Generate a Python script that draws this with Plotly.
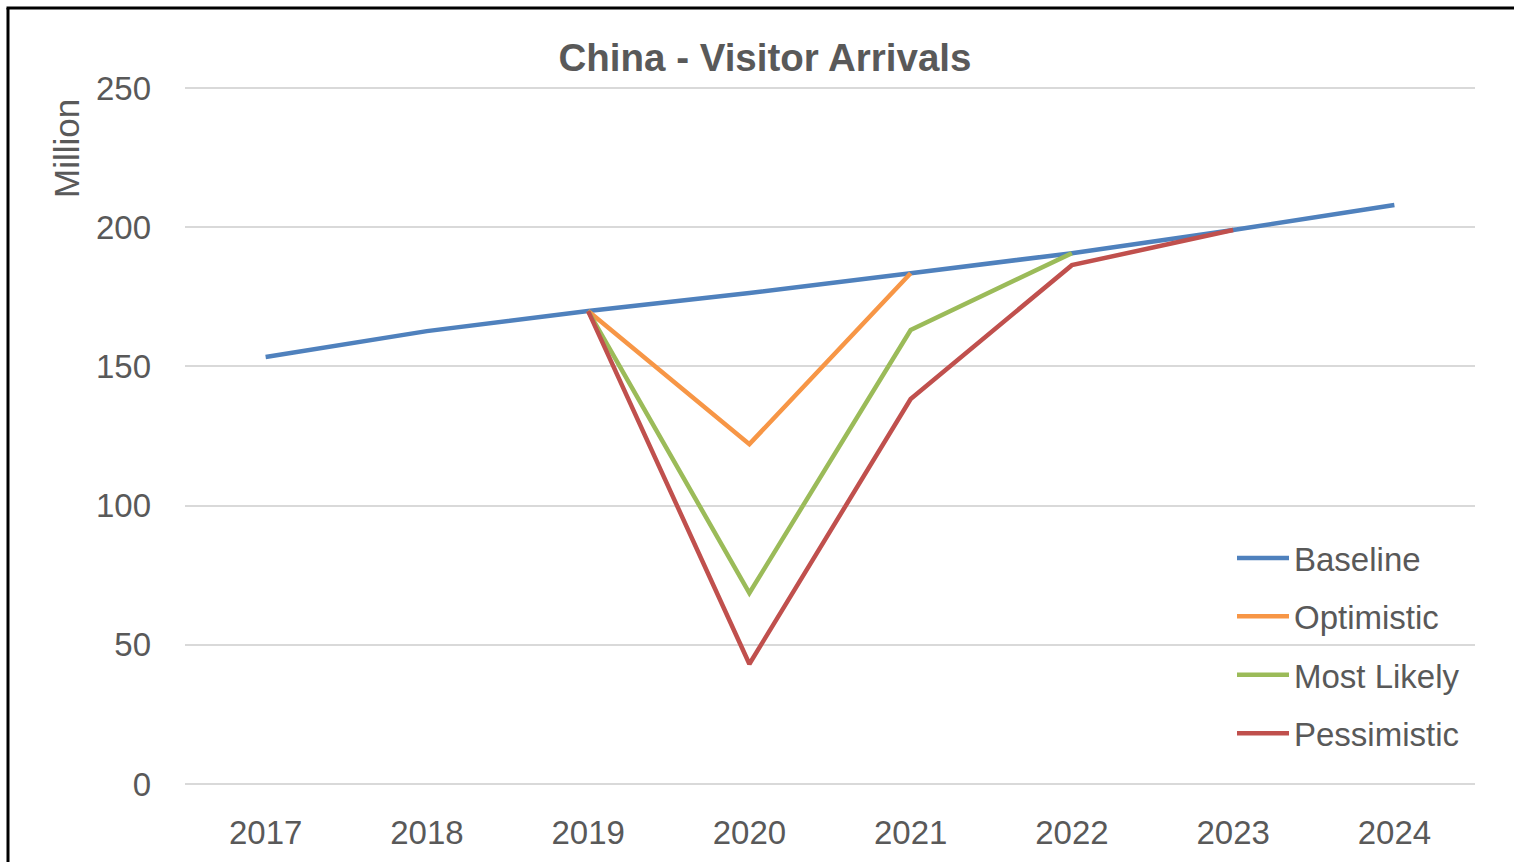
import plotly.graph_objects as go

years = ["2017", "2018", "2019", "2020", "2021", "2022", "2023", "2024"]
baseline = [153.4, 162.7, 169.9, 176.4, 183.5, 190.7, 199.0, 208.0]
optimistic = [None, None, 169.9, 122.1, 183.5, None, None, None]
most_likely = [None, None, 169.9, 68.6, 163.1, 190.7, None, None]
pessimistic = [None, None, 169.9, 43.1, 138.3, 186.4, 199.0, None]
y_ticks = [0, 50, 100, 150, 200, 250]

FONT = "Liberation Sans"
GREY = "#595959"

series = [
    ("Baseline", baseline, "#4F81BD"),
    ("Optimistic", optimistic, "#F79646"),
    ("Most Likely", most_likely, "#9BBB59"),
    ("Pessimistic", pessimistic, "#C0504D"),
]

fig = go.Figure()
for i, (name, vals, col) in enumerate(series):
    fig.add_trace(go.Scatter(
        x=years, y=vals, name=name, mode="lines",
        line=dict(color=col, width=4.5),
        legendgroup=str(i), connectgaps=False,
    ))

L, R, T, B = 185, 39, 87, 78
W, H = 1514, 862
pw, ph = W - L - R, H - T - B

def px(xp):
    return (xp - L) / pw

def py(yp):
    return (H - B - yp) / ph

fig.update_layout(
    width=W, height=H,
    margin=dict(l=L, r=R, t=T, b=B, autoexpand=False),
    paper_bgcolor="white", plot_bgcolor="white",
    font=dict(family=FONT, size=33, color=GREY),
    title=dict(text="<b>China - Visitor Arrivals</b>", x=(765) / W, xanchor="center",
               y=1 - 58 / H, yanchor="middle",
               font=dict(family=FONT, size=38.5, color=GREY)),
    xaxis=dict(type="category", range=[-0.5, 7.5], showgrid=False, showline=False,
               zeroline=False, ticks="", ticklabelstandoff=26,
               tickfont=dict(size=33, color=GREY)),
    yaxis=dict(range=[0, 250.4], tickvals=y_ticks, showgrid=True, gridcolor="#D9D9D9",
               gridwidth=2, zeroline=True, zerolinecolor="#D9D9D9", zerolinewidth=2,
               showline=False, ticks="",
               ticklabelstandoff=33, tickfont=dict(size=33, color=GREY)),
    legend=dict(x=px(1232), y=py(530), xanchor="left", yanchor="top",
                bgcolor="rgba(0,0,0,0)", font=dict(size=33, color=GREY),
                traceorder="grouped", tracegroupgap=12.5, itemwidth=52),
    showlegend=True,
)

fig.add_annotation(text="Million", textangle=-90, xref="paper", yref="paper",
                   x=px(66), y=py(148), xanchor="center", yanchor="middle",
                   showarrow=False, font=dict(size=35, color=GREY))

# Chart frame (left and top edges visible)
fig.add_shape(type="line", xref="paper", yref="paper",
              x0=px(8), y0=py(8), x1=px(8), y1=py(870), line=dict(color="black", width=3))
fig.add_shape(type="line", xref="paper", yref="paper",
              x0=px(6.5), y0=py(8), x1=px(1520), y1=py(8), line=dict(color="black", width=3))

fig.write_html("out.html")
